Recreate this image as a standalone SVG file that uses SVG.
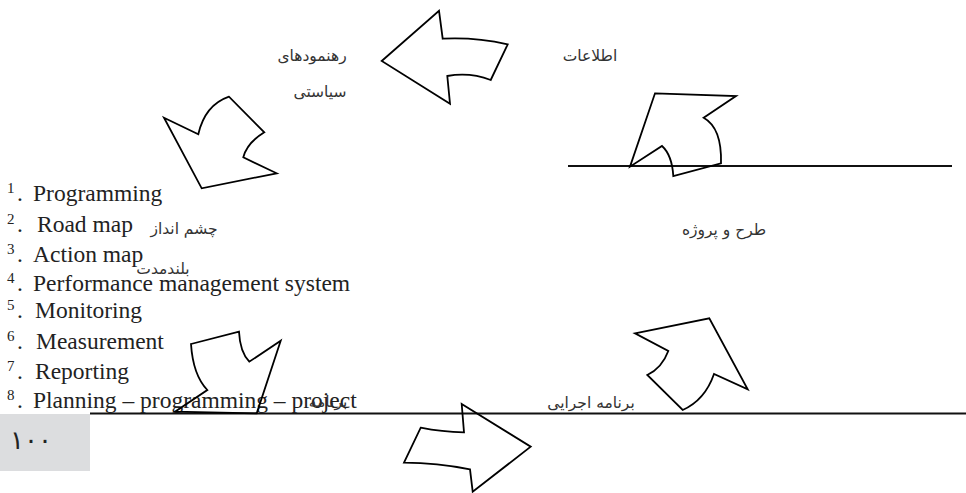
<svg xmlns="http://www.w3.org/2000/svg" width="966" height="493" viewBox="0 0 966 493">
<style>
.fa{font-family:'DejaVu Sans',sans-serif;font-size:15.5px;fill:#333}
.en{font-family:'Liberation Serif','Times New Roman',serif;font-size:23.5px;fill:#222}
.sup{font-family:'Liberation Serif','Times New Roman',serif;font-size:15px;fill:#222}
.arr{fill:none;stroke:#000;stroke-width:1.8;stroke-linejoin:miter}
.ln{stroke:#111;stroke-width:2.2}
</style>
<rect x="0" y="414" width="90" height="57" fill="#dcdddf"/>
<text x="10" y="449" font-family="'DejaVu Sans',sans-serif" font-size="26" fill="#222" letter-spacing="5">۱۰۰</text>
<line class="ln" x1="568" y1="166" x2="952" y2="166"/>
<line class="ln" x1="90" y1="413.5" x2="966" y2="413.5"/>
<g id="list">
<text class="sup" x="7" y="193">1</text><text class="en" x="17" y="201">.</text><text class="en" x="33" y="201">Programming</text>
<text class="sup" x="7" y="224">2</text><text class="en" x="17" y="232">.</text><text class="en" x="37" y="232">Road map</text>
<text class="sup" x="7" y="254">3</text><text class="en" x="17" y="262">.</text><text class="en" x="33" y="262">Action map</text>
<text class="sup" x="7" y="283">4</text><text class="en" x="17" y="291">.</text><text class="en" x="33" y="291">Performance management system</text>
<text class="sup" x="7" y="310">5</text><text class="en" x="17" y="318">.</text><text class="en" x="35" y="318">Monitoring</text>
<text class="sup" x="7" y="341">6</text><text class="en" x="17" y="349">.</text><text class="en" x="36" y="349">Measurement</text>
<text class="sup" x="7" y="371">7</text><text class="en" x="17" y="379">.</text><text class="en" x="35" y="379">Reporting</text>
<text class="sup" x="7" y="400">8</text><text class="en" x="17" y="408">.</text><text class="en" x="33" y="408">Planning – programming – project</text>
</g>
<g id="n-policy"><text class="fa" x="312" y="61" text-anchor="middle">رهنمودهای</text><text class="fa" x="320" y="97" text-anchor="middle">سیاستی</text></g>
<g id="n-info"><text class="fa" x="590" y="61" text-anchor="middle">اطلاعات</text></g>
<g id="n-project"><text class="fa" x="724" y="235" text-anchor="middle">طرح و پروژه</text></g>
<g id="n-vision"><text class="fa" x="184" y="234" text-anchor="middle">چشم انداز</text><text class="fa" x="163" y="274" text-anchor="middle">بلندمدت</text></g>
<g id="n-program"><text class="fa" x="328" y="407" text-anchor="middle">برنامه</text></g>
<g id="n-exec"><text class="fa" x="591" y="408" text-anchor="middle">برنامه اجرایی</text></g>
<g id="connectors">
<path class="arr" d="M381.7,61 L439,10.7 L442.7,38.7 Q475,37 507.7,44.3 L490.7,80 Q470,72 447.3,76 L450,103.7 Z"/>
<path class="arr" d="M655,93.3 L736,96 L703.7,117.7 Q722,128 721,163.3 L673.3,176 Q672,155 662,146 L630,166.7 Z"/>
<path class="arr" d="M164,117.7 L198.3,134.3 Q205,105 229,96.7 L264.3,132.3 Q247,143 243.3,157.3 L276.7,173.3 L201.7,188.3 Z"/>
<path class="arr" d="M191,344 L239,331.7 Q240,352 249.3,361.7 L280.7,340.7 L256.7,413.3 L175,411.7 L207.3,390 Q193,375 191,344 Z"/>
<path class="arr" d="M461.7,404 L530.7,446.7 L472.7,491.7 L470,469.3 Q437,463 404,462.7 L420.7,427.7 Q442,432 464,432.3 Z"/>
<path class="arr" d="M635,333.3 L709.3,318.3 L747.7,389.3 L714,374 Q705,400 682.7,410 L647.3,375 Q662,368 668.3,351 Z"/>
</g>
</svg>
